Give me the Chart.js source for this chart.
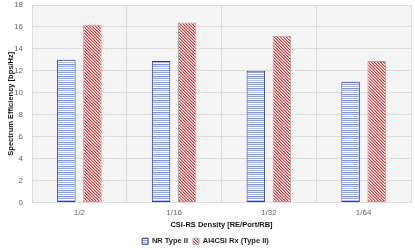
<!DOCTYPE html>
<html>
<head>
<meta charset="utf-8">
<script src="https://cdn.jsdelivr.net/npm/chart.js@4"></script>
<style>
  html, body { margin: 0; padding: 0; background: #fff; }
  #wrap { width: 415px; height: 250px; }
</style>
</head>
<body>
<div id="wrap"><canvas id="chart" width="415" height="250"></canvas></div>
<script>
const categories = ['1/2', '1/16', '1/32', '1/64'];
const nrType2 = [13.0, 12.9, 12.0, 11.0];
const ai4csi = [16.2, 16.4, 15.2, 12.9];
const yTicks = [0, 2, 4, 6, 8, 10, 12, 14, 16, 18];

// horizontal stripes, blue
function stripePattern() {
  const c = document.createElement('canvas');
  c.width = 4; c.height = 12;
  const g = c.getContext('2d');
  const rows = ['#8c9de0', '#ffffff', '#aab7ee', '#ffffff', '#7f91d9', '#dfe4f8',
                '#9aa9e6', '#ffffff', '#b5c1f0', '#ffffff', '#8596dc', '#e8ecfa'];
  rows.forEach((col, i) => { g.fillStyle = col; g.fillRect(0, i, 4, 1); });
  return g.createPattern(c, 'repeat');
}

// diagonal hatch, red
function hatchPattern() {
  const c = document.createElement('canvas');
  c.width = 3; c.height = 3;
  const g = c.getContext('2d');
  g.fillStyle = '#ffffff';
  g.fillRect(0, 0, 3, 3);
  for (let i = 0; i < 3; i++) {
    g.fillStyle = '#e52f30';
    g.fillRect(i, i, 1, 1);
    g.fillStyle = '#f49a9a';
    g.fillRect((i + 1) % 3, i, 1, 1);
  }
  return g.createPattern(c, 'repeat');
}

const plotBg = {
  id: 'plotBg',
  beforeDraw(chart) {
    const { ctx, chartArea: a } = chart;
    ctx.save();
    ctx.fillStyle = '#f4f4f4';
    ctx.fillRect(a.left, a.top, a.right - a.left, a.bottom - a.top);
    ctx.restore();
  }
};

new Chart(document.getElementById('chart'), {
  type: 'bar',
  data: {
    labels: categories,
    datasets: [
      {
        label: 'NR Type II',
        data: nrType2,
        backgroundColor: stripePattern(),
        borderColor: '#2e3d78',
        borderWidth: 1,
        borderSkipped: false
      },
      {
        label: 'AI4CSI Rx (Type II)',
        data: ai4csi,
        backgroundColor: hatchPattern(),
        borderColor: '#a6a6a6',
        borderWidth: 1,
        borderSkipped: false
      }
    ]
  },
  options: {
    responsive: false,
    animation: false,
    devicePixelRatio: 1,
    categoryPercentage: 0.55,
    barPercentage: 0.71,
    layout: { padding: { left: 0, right: 4, top: 5, bottom: -5 } },
    plugins: {
      legend: {
        position: 'bottom',
        labels: {
          boxWidth: 6,
          boxHeight: 6,
          padding: 5,
          color: '#222',
          font: { family: 'Liberation Sans', size: 7.5, weight: 'bold' }
        }
      },
      tooltip: { enabled: false }
    },
    scales: {
      x: {
        afterFit(axis) { axis.height = 30; },
        grid: { color: '#dcdcdc', drawTicks: false },
        border: { display: false },
        ticks: { color: '#666', padding: 5, font: { family: 'Liberation Sans', size: 8 } },
        title: {
          display: true,
          text: 'CSI-RS Density [RE/Port/RB]',
          color: '#111',
          padding: { top: 0, bottom: 3.5 },
          font: { family: 'Liberation Sans', size: 7.5, weight: 'bold' }
        }
      },
      y: {
        min: 0,
        max: 18,
        afterFit(axis) { axis.width = 32; axis.paddingTop = 0; axis.paddingBottom = 0; },
        afterBuildTicks(axis) { axis.ticks = yTicks.map(v => ({ value: v })); },
        grid: { color: '#dcdcdc', drawTicks: false },
        border: { display: false },
        ticks: { color: '#666', padding: 9, font: { family: 'Liberation Sans', size: 8 } },
        title: {
          display: true,
          text: 'Spectrum Efficiency [bps/Hz]',
          color: '#111',
          padding: { top: 6.5, bottom: 0 },
          font: { family: 'Liberation Sans', size: 7.5, weight: 'bold' }
        }
      }
    }
  },
  plugins: [plotBg]
});
</script>
</body>
</html>
